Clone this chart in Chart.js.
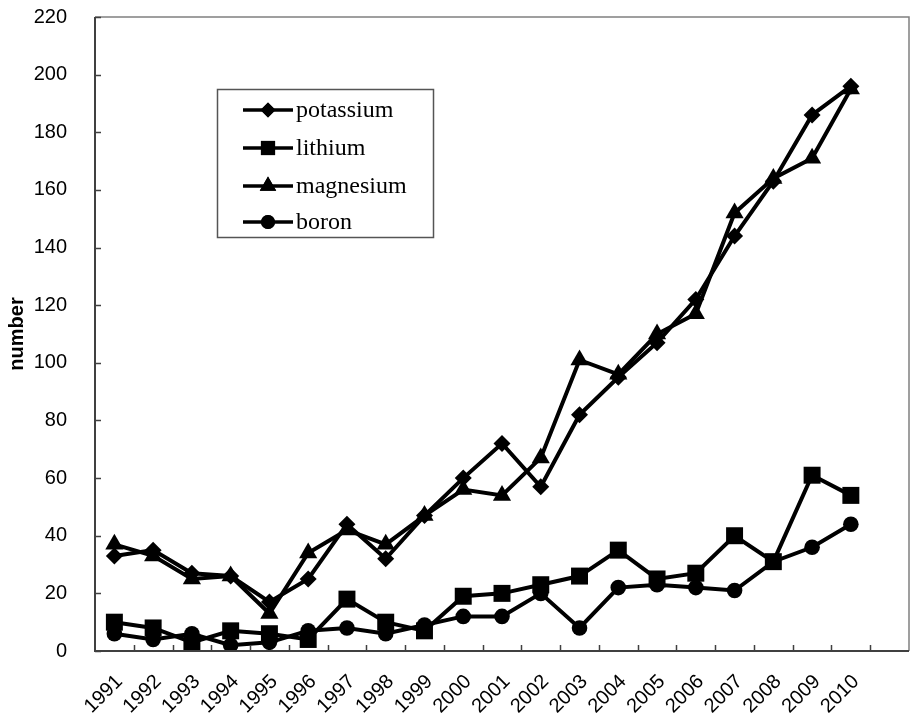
<!DOCTYPE html>
<html>
<head>
<meta charset="utf-8">
<script src="https://cdn.jsdelivr.net/npm/chart.js@4/dist/chart.umd.min.js"></script>
<style>
html,body{margin:0;padding:0;background:#fff;}
#wrap{width:910px;height:713px;position:relative;}
</style>
</head>
<body>
<div id="wrap"><canvas id="c" width="910" height="713"></canvas></div>
<script>
const years = ['1991','1992','1993','1994','1995','1996','1997','1998','1999','2000','2001','2002','2003','2004','2005','2006','2007','2008','2009','2010',''];
const potassium = [33,35,27,26,17,25,44,32,47,60,72,57,82,95,107,122,144,163,186,196];
const lithium   = [10,8,3,7,6,4,18,10,7,19,20,23,26,35,25,27,40,31,61,54];
const magnesium = [37,33,25,26,13,34,42,37,47,56,54,67,101,96,110,117,152,164,171,195];
const boron     = [6,4,6,2,3,7,8,6,9,12,12,20,8,22,23,22,21,31,36,44];
const yTicks = [0,20,40,60,80,100,120,140,160,180,200,220];

const seriesDefs = [
  {label:'potassium', data:potassium, style:'rectRot', r:8.5, lr:7.5},
  {label:'lithium', data:lithium, style:'rect', r:12, lr:10},
  {label:'magnesium', data:magnesium, style:'triangle', r:10.5, lr:9.5},
  {label:'boron', data:boron, style:'circle', r:7.8, lr:7}
];

const boxPlugin = {
  id:'boxPlugin',
  afterDraw(chart){
    const ctx = chart.ctx, a = chart.chartArea;
    ctx.save();
    ctx.strokeStyle = '#808080';
    ctx.lineWidth = 1.5;
    ctx.beginPath();
    ctx.moveTo(a.left, a.top); ctx.lineTo(a.right, a.top); ctx.lineTo(a.right, a.bottom);
    ctx.stroke();
    ctx.strokeStyle = '#404040';
    ctx.lineWidth = 2;
    ctx.beginPath();
    ctx.moveTo(a.left, a.top); ctx.lineTo(a.left, a.bottom); ctx.lineTo(a.right, a.bottom);
    ctx.stroke();
    // inward y ticks
    const ys = chart.scales.y;
    ctx.lineWidth = 1.5;
    ctx.beginPath();
    yTicks.forEach(v=>{const p = Math.round(ys.getPixelForValue(v))+0.5; ctx.moveTo(a.left, p); ctx.lineTo(a.left+6, p);});
    // inward x ticks at category boundaries
    const n = years.length, bw = (a.right - a.left)/n;
    for(let i=1;i<n;i++){ const p = Math.round(a.left + i*bw)+0.5; ctx.moveTo(p, a.bottom); ctx.lineTo(p, a.bottom-6); }
    ctx.stroke();
    // legend
    const lx = 217, ly = 89, lw = 216, lh = 148;
    ctx.fillStyle = '#fff';
    ctx.fillRect(lx, ly, lw, lh);
    ctx.strokeStyle = '#555';
    ctx.lineWidth = 1.5;
    ctx.strokeRect(lx+0.5, ly+0.5, lw, lh);
    const rows = [110,148,186,222];
    seriesDefs.forEach((s,i)=>{
      const y = rows[i];
      ctx.strokeStyle = '#000';
      ctx.lineWidth = 3.5;
      ctx.beginPath(); ctx.moveTo(243, y); ctx.lineTo(293, y); ctx.stroke();
      ctx.fillStyle = '#000';
      ctx.beginPath();
      Chart.helpers.drawPoint(ctx, {pointStyle:s.style, radius:s.lr, rotation:0, borderWidth:0}, 268, y);
      ctx.fill();
      ctx.fillStyle = '#000';
      ctx.font = '24px "Liberation Serif", "Times New Roman", serif';
      ctx.textBaseline = 'middle';
      ctx.textAlign = 'left';
      ctx.fillText(s.label, 296, y+1);
    });
    ctx.restore();
  }
};

new Chart(document.getElementById('c'), {
  type:'line',
  data:{
    labels: years,
    datasets: seriesDefs.map(s=>({
      label:s.label, data:s.data,
      borderColor:'#000', backgroundColor:'#000',
      borderWidth:4, pointStyle:s.style, pointRadius:s.r,
      pointBackgroundColor:'#000', pointBorderColor:'#000', pointBorderWidth:0,
      tension:0, fill:false
    }))
  },
  options:{
    responsive:false, animation:false,
    layout:{autoPadding:false, padding:{top:17, right:1, left:0, bottom:0}},
    plugins:{legend:{display:false}, tooltip:{enabled:false}},
    scales:{
      x:{
        type:'category', offset:true,
        border:{display:false},
        grid:{display:false},
        ticks:{color:'#000', font:{family:'"Liberation Sans", Arial, sans-serif', size:20}, maxRotation:45, minRotation:45, autoSkip:false, padding:11, labelOffset:5},
        afterFit(s){ s.height = 62; s.paddingLeft = 0; s.paddingRight = 0; }
      },
      y:{
        min:0, max:220,
        border:{display:false},
        grid:{display:false},
        afterBuildTicks(s){ s.ticks = yTicks.map(v=>({value:v})); },
        ticks:{color:'#000', font:{family:'"Liberation Sans", Arial, sans-serif', size:20}, padding:20},
        title:{display:true, text:'number', color:'#000', font:{family:'"Liberation Sans", Arial, sans-serif', size:20, weight:'bold'}, padding:{top:5,bottom:0}},
        afterFit(s){ s.width = 95; s.paddingTop = 0; s.paddingBottom = 0; }
      }
    }
  },
  plugins:[boxPlugin]
});
</script>
</body>
</html>
